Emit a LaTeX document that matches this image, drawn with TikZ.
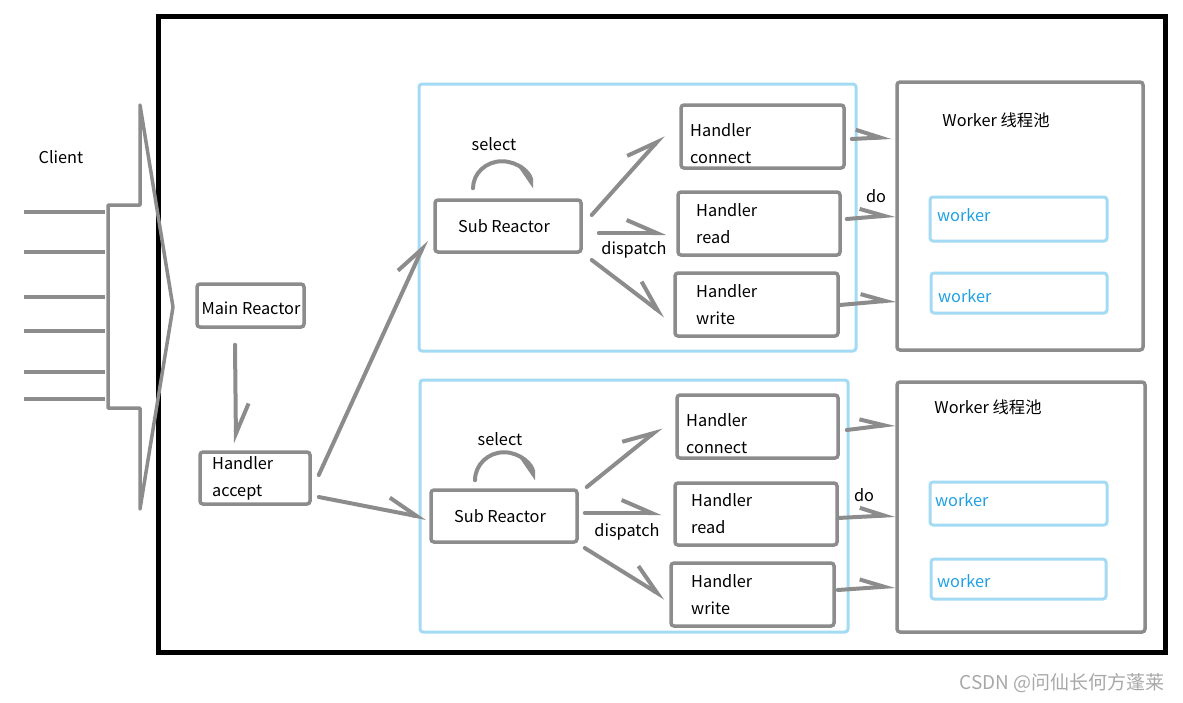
\documentclass[tikz,border=0pt]{standalone}
\usepackage{fontspec}
\setmainfont{Noto Sans CJK SC}
\usetikzlibrary{arrows.meta,calc}
\definecolor{pencil}{HTML}{8C8C8C}
\definecolor{skyline}{HTML}{A3DAF4}
\definecolor{workerblue}{HTML}{1FA0E3}
\definecolor{wmark}{HTML}{A8A8A8}
\tikzset{
  gbox/.style={draw=pencil, line width=3.5pt, rounded corners=3pt, inner sep=0pt},
  bbox/.style={draw=skyline, line width=3pt, rounded corners=3pt, inner sep=0pt},
  txt/.style={font=\fontsize{16.3}{27}\selectfont, inner sep=0pt, align=left, text=black},
  wtxt/.style={font=\fontsize{16.3}{20}\selectfont, inner sep=0pt, text=workerblue},
  garrow/.style={draw=pencil, line width=4pt, line cap=round,
    -{Straight Barb[left, length=30pt, width=26pt]}},
  sarrow/.style={draw=pencil, line width=4pt, line cap=round,
    -{Straight Barb[left, length=24pt, width=18pt]}},
  loopar/.style={draw=pencil, line width=4pt, line cap=round,
    -{Straight Barb[right, length=16pt, width=22pt]}},
  cline/.style={draw=pencil, line width=3.5pt},
}
\begin{document}
\begin{tikzpicture}[x=1pt, y=-1pt]
\useasboundingbox (0,0) rectangle (1183,702);
% outer frame
\node[draw=black, line width=5pt, minimum width=1007pt, minimum height=636pt, inner sep=0pt] (frame) at (662,334.5) {};

% client
\node[txt] (client) at (61,157) {Client};
\foreach \yy in {212,252,297,331,372,399} {
  \draw[cline] (24,\yy) -- (105,\yy);
}
\draw[draw=pencil, line width=3.5pt, line join=round]
  (140,105) -- (140,205) -- (108,205) -- (108,408) -- (140,408) -- (140,509) -- (173,307) -- cycle;

% main reactor & handler accept
\node[gbox, minimum width=107pt, minimum height=43pt] (mr) at (250.5,305.5) {};
\node[txt, anchor=center] (mrt) at (251,308) {Main Reactor};
\node[gbox, minimum width=110pt, minimum height=52pt] (ha) at (255,478) {};
\node[txt, anchor=west] (hat) at (212,478.5) {Handler\\accept};

% ===== top group =====
\node[bbox, minimum width=437pt, minimum height=267pt] (bl1) at (637.5,217.5) {};
\node[gbox, minimum width=146pt, minimum height=52pt] (sr1) at (508,226) {};
\node[txt] (sr1t) at (504,226) {Sub Reactor};
\node[txt] (sel1) at (494,144) {select};
\node[txt] (dis1) at (634,250) {dispatch};
\node[gbox, minimum width=163pt, minimum height=63pt] (hc1) at (762.5,136.5) {};
\node[txt, anchor=west] (hc1t) at (690,143.5) {Handler\\connect};
\node[gbox, minimum width=162pt, minimum height=63pt] (hr1) at (759,223.5) {};
\node[txt, anchor=west] (hr1t) at (696,223.5) {Handler\\read};
\node[gbox, minimum width=163pt, minimum height=63pt] (hw1) at (756.5,304.5) {};
\node[txt, anchor=west] (hw1t) at (696,304.5) {Handler\\write};
\node[gbox, minimum width=246pt, minimum height=268pt] (wp1) at (1020,216) {};
\node[txt] (wp1t) at (996,120) {Worker 线程池};
\node[bbox, minimum width=177pt, minimum height=44pt] (wk1a) at (1018.5,219) {};
\node[wtxt, anchor=west] (wk1at) at (937,215) {worker};
\node[bbox, minimum width=176pt, minimum height=40pt] (wk1b) at (1019,293) {};
\node[wtxt, anchor=west] (wk1bt) at (938,296) {worker};
\node[txt] (do1) at (876,196) {do};

% ===== bottom group =====
\node[bbox, minimum width=428pt, minimum height=252pt] (bl2) at (634,506) {};
\node[gbox, minimum width=146pt, minimum height=52pt] (sr2) at (504,516) {};
\node[txt] (sr2t) at (500,516) {Sub Reactor};
\node[txt] (sel2) at (500,439) {select};
\node[txt] (dis2) at (627,532) {dispatch};
\node[gbox, minimum width=161pt, minimum height=63pt] (hc2) at (757.5,426.5) {};
\node[txt, anchor=west] (hc2t) at (686,433.5) {Handler\\connect};
\node[gbox, minimum width=162pt, minimum height=62pt] (hr2) at (756,514) {};
\node[txt, anchor=west] (hr2t) at (691,513.5) {Handler\\read};
\node[gbox, minimum width=163pt, minimum height=63pt] (hw2) at (752.5,594.5) {};
\node[txt, anchor=west] (hw2t) at (691,594.5) {Handler\\write};
\node[gbox, minimum width=248pt, minimum height=250pt] (wp2) at (1021,507) {};
\node[txt] (wp2t) at (988,407) {Worker 线程池};
\node[bbox, minimum width=177pt, minimum height=43pt] (wk2a) at (1018.5,503.5) {};
\node[wtxt, anchor=west] (wk2at) at (935,500) {worker};
\node[bbox, minimum width=175pt, minimum height=40pt] (wk2b) at (1018.5,579) {};
\node[wtxt, anchor=west] (wk2bt) at (937,581) {worker};
\node[txt] (do2) at (864,495) {do};

% ===== connectors =====
\draw[garrow] ($(mr.south)+(-15.5,16)$) -- ($(ha.north)+(-19,-7)$);
\draw[garrow] ($(ha.east)+(7,-3)$) -- ($(sr1.west)+(-7,14)$);
\draw[garrow] ($(ha.east)+(7,19)$) -- ($(sr2.west)+(-3,2)$);

\draw[garrow] ($(sr1.east)+(9,-11)$) -- ($(hc1.west)+(-16,-1.5)$);
\draw[garrow] ($(sr1.east)+(16,7)$) -- ($(hr1.west)+(-10,9.5)$);
\draw[garrow] ($(sr1.east)+(9,34)$) -- ($(hw1.west)+(-8,11.5)$);
\draw[sarrow] ($(hc1.east)+(6,2.5)$) -- ($(wp1.west)+(-4,-79)$);
\draw[sarrow] ($(hr1.east)+(5,-4.5)$) -- ($(wp1.west)+(0,-1)$);
\draw[sarrow] ($(hw1.east)+(0,0.5)$) -- ($(wp1.west)+(1,84)$);

\draw[garrow] ($(sr2.east)+(8,-29)$) -- ($(hc2.west)+(-14,0.5)$);
\draw[garrow] ($(sr2.east)+(6,-3)$) -- ($(hr2.west)+(-12,-1)$);
\draw[garrow] ($(sr2.east)+(6,32)$) -- ($(hw2.west)+(-4,3.5)$);
\draw[sarrow] ($(hc2.east)+(7,3.5)$) -- ($(wp2.west)+(0,-83)$);
\draw[sarrow] ($(hr2.east)+(-1,4)$) -- ($(wp2.west)+(0,8)$);
\draw[sarrow] ($(hw2.east)+(2,-4.5)$) -- ($(wp2.west)+(0,79)$);

% select loops
\draw[loopar] ($(sr1.north)+(-35,-10)$) arc[start angle=180, end angle=360, x radius=29, y radius=27];
\draw[loopar] ($(sr2.north)+(-29,-8)$) arc[start angle=180, end angle=360, x radius=29, y radius=28];

% watermark
\node[font=\fontsize{19}{22}\selectfont, text=wmark, inner sep=0pt] (wm) at (1062,683) {CSDN @问仙长何方蓬莱};
\end{tikzpicture}
\end{document}
